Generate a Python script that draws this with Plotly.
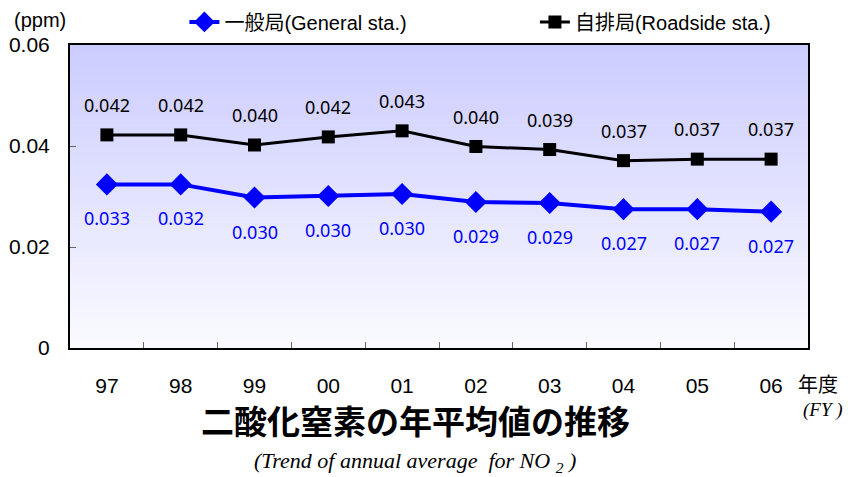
import plotly.graph_objects as go

years = ["97", "98", "99", "00", "01", "02", "03", "04", "05", "06"]
general = [0.0324, 0.0324, 0.0298, 0.0301, 0.0305, 0.0289, 0.0287, 0.0275, 0.0275, 0.0270]
roadside = [0.0422, 0.0422, 0.0402, 0.0418, 0.0430, 0.0399, 0.0393, 0.0371, 0.0374, 0.0374]
general_labels = ["0.033", "0.032", "0.030", "0.030", "0.030", "0.029", "0.029", "0.027", "0.027", "0.027"]
roadside_labels = ["0.042", "0.042", "0.040", "0.042", "0.043", "0.040", "0.039", "0.037", "0.037", "0.037"]
y_ticks = [0, 0.02, 0.04, 0.06]
y_ticktext = ["0", "0.02", "0.04", "0.06"]

NARROW = "Liberation Sans Narrow, Arial Narrow, Liberation Sans, Noto Sans CJK JP, sans-serif"
LABEL = "Noto Sans, DejaVu Sans, sans-serif"

fig = go.Figure()
fig.add_trace(go.Scatter(
    x=years, y=general, mode="lines+markers", name="一般局(General sta.)",
    line=dict(color="#0000FF", width=4),
    marker=dict(symbol="diamond", size=17, color="#0000FF"),
    legend="legend",
))
fig.add_trace(go.Scatter(
    x=years, y=roadside, mode="lines+markers", name="自排局(Roadside sta.)",
    line=dict(color="#000000", width=3),
    marker=dict(symbol="square", size=13, color="#000000"),
    legend="legend2",
))

annotations = []
for i, (y, t) in enumerate(zip(roadside, roadside_labels)):
    annotations.append(dict(x=i, y=y, xref="x", yref="y", text=t, showarrow=False, yshift=30,
                            xanchor="center", yanchor="middle",
                            font=dict(family=LABEL, size=18, color="#000000")))
for i, (y, t) in enumerate(zip(general, general_labels)):
    annotations.append(dict(x=i, y=y, xref="x", yref="y", text=t, showarrow=False, yshift=-34,
                            xanchor="center", yanchor="middle",
                            font=dict(family=LABEL, size=18, color="#0000FF")))

def note(x, y, text, font):
    return dict(xref="paper", yref="paper", x=x, y=y, text=text, showarrow=False,
                xanchor="center", yanchor="middle", font=font)

annotations += [
    note(-0.04, 1.083, "(ppm)", dict(family=NARROW, size=20, color="#000")),
    note(1.0136, -0.117, "年度", dict(family="Noto Sans CJK JP", size=20, color="#000")),
    note(1.02, -0.205, "<i>(FY )</i>", dict(family="Liberation Serif, serif", size=19, color="#000")),
    note(0.4675, -0.238, "<b>二酸化窒素の年平均値の推移</b>",
         dict(family="Noto Sans CJK JP", size=33, color="#000")),
    note(0.4675, -0.376, "<i>(Trend of annual average&nbsp; for NO <sub>2</sub> )</i>",
         dict(family="Liberation Serif, serif", size=22, color="#000")),
]

# vertical gradient background of plot area
shapes = []
N = 60
top = (204, 204, 255)
bot = (250, 250, 255)
for i in range(N):
    f = i / (N - 1)
    c = tuple(round(bot[k] + (top[k] - bot[k]) * f) for k in range(3))
    shapes.append(dict(type="rect", xref="x domain", yref="y domain",
                       x0=0, x1=1, y0=i / N, y1=(i + 1) / N + 0.002,
                       fillcolor="rgb(%d,%d,%d)" % c, line=dict(width=0), layer="below"))

legend_common = dict(orientation="h", yanchor="middle", xanchor="left", y=1.076,
                     font=dict(family=NARROW, size=20, color="#000"),
                     bgcolor="rgba(0,0,0,0)", itemwidth=30)

fig.update_layout(
    width=848, height=477, autosize=False,
    margin=dict(l=70, r=40, t=45, b=129, autoexpand=False),
    paper_bgcolor="white", plot_bgcolor="white",
    showlegend=True,
    legend=dict(x=0.155, **legend_common),
    legend2=dict(x=0.63, **legend_common),
    annotations=annotations,
    shapes=shapes,
)
fig.update_xaxes(
    type="category", range=[-0.5, 9.5], tickson="boundaries", ticks="inside", ticklen=6,
    tickcolor="#666", tickangle=0,
    showline=True, linecolor="#000", linewidth=2, mirror=True, showgrid=False,
    tickfont=dict(family=NARROW, size=21, color="#000"), ticklabelstandoff=18,
)
fig.update_yaxes(
    range=[0, 0.06], tickvals=y_ticks, ticktext=y_ticktext, ticks="inside", ticklen=6,
    tickcolor="#666", showline=True, linecolor="#000", linewidth=2, mirror=True,
    showgrid=False, zeroline=False,
    tickfont=dict(family=NARROW, size=21, color="#000"), ticklabelstandoff=14,
)

fig.write_html("out.html", config={"displayModeBar": False},
               post_script="document.body.style.margin='0';")
